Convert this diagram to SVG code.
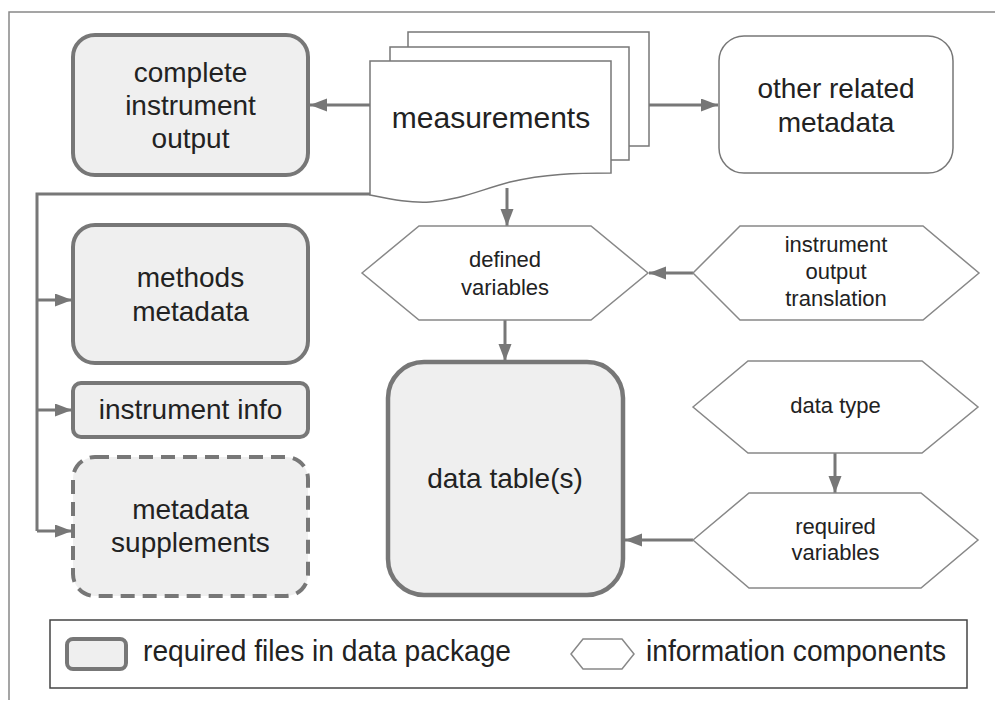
<svg xmlns="http://www.w3.org/2000/svg" width="995" height="703" viewBox="0 0 995 703">
<defs>
<style>
.req{fill:#efefef;stroke:#777;stroke-width:4}
.dash{fill:#efefef;stroke:#777;stroke-width:4;stroke-dasharray:14 8}
.thin{fill:#fff;stroke:#777;stroke-width:1.5}
.hex{fill:#fff;stroke:#888;stroke-width:1.5}
.con{fill:none;stroke:#777;stroke-width:3}
.frame{fill:none;stroke:#888;stroke-width:1.5}
.t{font-family:"Liberation Sans",Arial,sans-serif;fill:#222;text-anchor:middle}
.big{font-size:28px}
.small{font-size:22px}
.leg{font-family:"Liberation Sans",Arial,sans-serif;fill:#222;font-size:30px}
</style>
<marker id="ah" markerUnits="userSpaceOnUse" markerWidth="18" markerHeight="14" refX="17" refY="6.5" orient="auto">
<path d="M0,0 L17,6.5 L0,13 z" fill="#777"/>
</marker>
</defs>
<rect width="995" height="703" fill="#fff"/>
<path class="frame" d="M9,700 V12 H995"/>

<g id="connectors">
<line class="con" x1="371" y1="105" x2="310" y2="105" marker-end="url(#ah)"/>
<line class="con" x1="649" y1="105" x2="718" y2="105" marker-end="url(#ah)"/>
<path class="con" d="M370,194 H37 V531"/>
<line class="con" x1="37" y1="300" x2="72" y2="300" marker-end="url(#ah)"/>
<line class="con" x1="37" y1="410" x2="72" y2="410" marker-end="url(#ah)"/>
<line class="con" x1="37" y1="531" x2="72" y2="531" marker-end="url(#ah)"/>
<line class="con" x1="507" y1="188" x2="507" y2="226" marker-end="url(#ah)"/>
<line class="con" x1="505" y1="320" x2="505" y2="361" marker-end="url(#ah)"/>
<line class="con" x1="693" y1="273" x2="649" y2="273" marker-end="url(#ah)"/>
<line class="con" x1="835" y1="453" x2="835" y2="493" marker-end="url(#ah)"/>
<line class="con" x1="693" y1="540" x2="625" y2="540" marker-end="url(#ah)"/>
</g>

<g id="complete-instrument-output">
<rect class="req" x="73" y="35" width="235" height="140" rx="22"/>
<text class="t big" x="190.5" y="82">complete</text>
<text class="t big" x="190.5" y="115">instrument</text>
<text class="t big" x="190.5" y="148">output</text>
</g>

<g id="measurements">
<rect class="thin" x="408" y="32" width="241" height="114"/>
<rect class="thin" x="390" y="47" width="239" height="113"/>
<path class="thin" d="M370,61 H611 V173 C575,173 545,174 510,182 C480,190 460,200 430,202 C410,203 395,200 370,195 Z"/>
<text class="t" style="font-size:30px" x="491" y="128">measurements</text>
</g>

<g id="other-related-metadata">
<rect class="thin" x="719" y="36" width="234" height="137" rx="25"/>
<text class="t big" x="836" y="98">other related</text>
<text class="t big" x="836" y="132">metadata</text>
</g>

<g id="methods-metadata">
<rect class="req" x="73" y="225" width="235" height="138" rx="22"/>
<text class="t big" x="190.5" y="287">methods</text>
<text class="t big" x="190.5" y="321">metadata</text>
</g>

<g id="instrument-info">
<rect class="req" x="73" y="383" width="235" height="54" rx="8"/>
<text class="t big" x="190.5" y="419">instrument info</text>
</g>

<g id="metadata-supplements">
<rect class="dash" x="73" y="457" width="235" height="139" rx="22"/>
<text class="t big" x="190.5" y="519">metadata</text>
<text class="t big" x="190.5" y="552">supplements</text>
</g>

<g id="defined-variables">
<polygon class="hex" points="362,273 419,226 591,226 648,273 591,320 419,320"/>
<text class="t small" x="505" y="267">defined</text>
<text class="t small" x="505" y="295">variables</text>
</g>

<g id="instrument-output-translation">
<polygon class="hex" points="693,273 740,226 923,226 979,273 923,320 740,320"/>
<text class="t small" x="836" y="252">instrument</text>
<text class="t small" x="836" y="279">output</text>
<text class="t small" x="836" y="306">translation</text>
</g>

<g id="data-tables">
<rect class="req" style="stroke-width:4.5" x="388" y="362" width="235" height="233" rx="36"/>
<text class="t big" x="505" y="488">data table(s)</text>
</g>

<g id="data-type">
<polygon class="hex" points="693,407 748,361 922,361 978,407 922,453 748,453"/>
<text class="t small" x="835.5" y="413">data type</text>
</g>

<g id="required-variables">
<polygon class="hex" points="693,540 749,493 921,493 978,540 921,588 749,588"/>
<text class="t small" x="835.5" y="534">required</text>
<text class="t small" x="835.5" y="560">variables</text>
</g>

<g id="legend">
<rect x="50" y="620" width="917" height="68" fill="#fff" stroke="#444" stroke-width="1.5"/>
<rect class="req" x="67" y="639" width="59" height="30" rx="6"/>
<text class="leg" x="143" y="661" textLength="368" lengthAdjust="spacingAndGlyphs">required files in data package</text>
<polygon class="hex" points="571,654 583,639 622,639 634,654 622,669 583,669"/>
<text class="leg" x="646" y="661" textLength="300" lengthAdjust="spacingAndGlyphs">information components</text>
</g>
</svg>
